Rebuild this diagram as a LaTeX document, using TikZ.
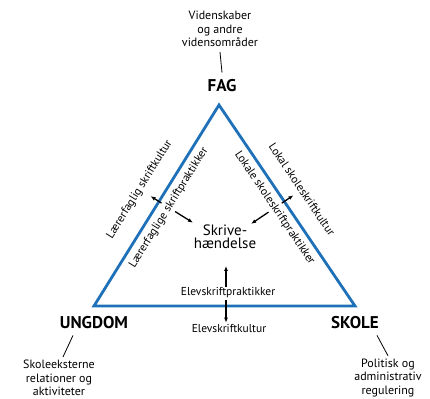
\documentclass[tikz,border=0pt]{standalone}
\usepackage{fontspec}
\setmainfont{PT Sans}
\usetikzlibrary{arrows.meta}
\definecolor{sideblue}{RGB}{30,112,185}

\begin{document}
\begin{tikzpicture}[x=1pt, y=1pt, every node/.style={font=\fontsize{11.5}{13}\selectfont, align=center, inner sep=1pt},
      outer/.style={font=\fontsize{12}{13.5}\selectfont},
      corner/.style={font=\fontsize{17}{18}\selectfont\bfseries},
      event/.style={font=\fontsize{15}{12.5}\selectfont},
      side/.style={draw=sideblue, line width=2.8pt, line join=miter},
      pull/.style={-{Latex[length=5pt,width=4pt]}, line width=1.3pt},
      link/.style={line width=0.8pt}]

      \useasboundingbox (0,0) rectangle (430,398);

      % corners of the triangle
      \coordinate (apex) at (219,293);
      \coordinate (left) at (94,92);
      \coordinate (right) at (355,92);

      \draw[side] (left) -- node[pos=0.52, sloped, above=15pt] (lkultur) {Lærerfaglig skriftkultur}
                              node[pos=0.52, sloped, below=4pt] (lpraksis) {Lærerfaglige skriftpraktikker}
                              coordinate[pos=0.52] (lmid) (apex)
                  -- node[pos=0.48, sloped, above=15pt] (rkultur) {Lokal skoleskriftkultur}
                     node[pos=0.48, sloped, below=4pt] (rpraksis) {Lokale skoleskriftpraktikker}
                     coordinate[pos=0.48] (rmid) (right)
                  -- cycle;

      \node (fag) [corner] at (222,312) {FAG};
      \node (ungdom) [corner] at (94,75) {UNGDOM};
      \node (skole) [corner] at (355,75) {SKOLE};

      \node (viden) [outer] at (220,369) {Videnskaber\\og andre\\vidensområder};
      \node (skoleeks) [outer] at (59,20) {Skoleeksterne\\relationer og\\aktiviteter};
      \node (politisk) [outer] at (388,20) {Politisk og\\administrativ\\regulering};

      \draw[link] ([yshift=-4pt]viden.south) -- ([yshift=6pt]fag.north);
      \draw[link] ([xshift=-21pt,yshift=-5pt]ungdom.south) -- ([xshift=4pt,yshift=2pt]skoleeks.north);
      \draw[link] ([xshift=22pt,yshift=-5pt]skole.south) -- ([xshift=0pt,yshift=2pt]politisk.north);

      \node (skrive) [event] at (225,161) {Skrive-\\hændelse};
      \node (elevpraksis) at (228,105) {Elevskriftpraktikker};
      \node (elevkultur) at (229,70) {Elevskriftkultur};

      % arrows across the sides
      \coordinate (uptip) at (226,132);
      \coordinate (base) at (226,98);
      \draw[pull] ([shift={(-32:3)}]lmid) -- ([shift={(148:10)}]lmid);
      \draw[pull] ([shift={(-32:19)}]lmid) -- ([shift={(-32:40)}]lmid);
      \draw[pull] ([shift={(214:3)}]rmid) -- ([shift={(34:11)}]rmid);
      \draw[pull] ([shift={(214:19)}]rmid) -- ([shift={(214:40)}]rmid);

      \draw[pull] (elevpraksis.north -| uptip) -- (uptip);
      \draw[pull] (base) -- (elevkultur.north -| base);
\end{tikzpicture}
\end{document}
